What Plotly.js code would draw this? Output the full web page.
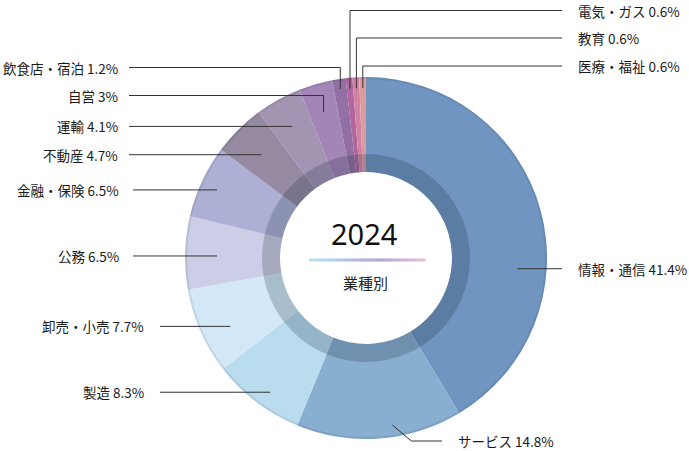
<!DOCTYPE html>
<html>
<head>
<meta charset="utf-8">
<script src="https://cdn.plot.ly/plotly-3.0.1.min.js"></script>
<style>html,body{margin:0;padding:0;background:#fff}</style>
</head>
<body>
<div id="chart" style="width:689px;height:451px"></div>
<script>
const sectors = ["情報・通信", "サービス", "製造", "卸売・小売", "公務", "金融・保険",
  "不動産", "運輸", "自営", "飲食店・宿泊", "電気・ガス", "教育", "医療・福祉"];
const shares = [41.4, 14.8, 8.3, 7.7, 6.5, 6.5, 4.7, 4.1, 3, 1.2, 0.6, 0.6, 0.6];
const year = "2024";
const caption = "業種別";

const colors = ["#6F95C0", "#88AED0", "#BADCEF", "#D3E8F7", "#CCCDE6", "#ADB0D4",
  "#958AA2", "#A394B2", "#A485B8", "#9270A3", "#B0669E", "#D283A3", "#DA9C9E"];

const W = 689, H = 451;
const CX = 366, CY = 258, R = 181;
const HOLE_R = 86, BAND_R = 104;

// where each leader line starts inside its slice and where its label sits
const guides = [
  { kind: "h", f: 0.631, r: 152, lineX: 562, textX: 577 },
  { kind: "d", f: 0.413, r: 169, dx: 19, ty: 441, lineX: 442, textX: 457 },
  { kind: "h", f: 0.443, r: 165, lineX: 160, textX: 145 },
  { kind: "h", f: 0.399, r: 152, lineX: 160, textX: 145 },
  { kind: "h", f: 0.464, r: 149, lineX: 133, textX: 120 },
  { kind: "h", f: 0.479, r: 164, lineX: 133, textX: 120 },
  { kind: "h", f: 0.468, r: 147, lineX: 129, textX: 119 },
  { kind: "h", f: 0.473, r: 151, lineX: 129, textX: 119 },
  { kind: "v", f: 0.5, r: 152, ty: 95.5, lineX: 129, textX: 119 },
  { kind: "v", f: 0.5, r: 171, ty: 67.5, lineX: 129, textX: 119 },
  { kind: "v", f: 0.5, r: 170, ty: 10.5, lineX: 562, textX: 577 },
  { kind: "v", f: 0.5, r: 170, ty: 38, lineX: 562, textX: 577 },
  { kind: "v", f: 0.5, r: 170, ty: 66, lineX: 562, textX: 577 }
];

const px = (x) => x / W;
const py = (y) => 1 - y / H;

function domainFor(rad) {
  return {
    x: [px(CX - rad), px(CX + rad)],
    y: [py(CY + rad), py(CY - rad)]
  };
}

const total = shares.reduce((a, b) => a + b, 0);
const shapes = [];
const annotations = [];
const lineStyle = { color: "#333", width: 1 };

let cum = 0;
shares.forEach((v, i) => {
  const a0 = (cum / total) * 360;
  cum += v;
  const a1 = (cum / total) * 360;
  const g = guides[i];
  const ang = ((a0 + g.f * (a1 - a0)) * Math.PI) / 180;
  const x = CX + g.r * Math.sin(ang);
  const y = CY - g.r * Math.cos(ang);
  let path, ty;
  if (g.kind === "h") {
    ty = y;
    path = `M ${px(x)} ${py(y)} L ${px(g.lineX)} ${py(y)}`;
  } else if (g.kind === "v") {
    ty = g.ty;
    path = `M ${px(x)} ${py(y)} L ${px(x)} ${py(ty)} L ${px(g.lineX)} ${py(ty)}`;
  } else {
    ty = g.ty;
    path = `M ${px(x)} ${py(y)} L ${px(x + g.dx)} ${py(ty)} L ${px(g.lineX)} ${py(ty)}`;
  }
  shapes.push({ type: "path", xref: "paper", yref: "paper", path: path, line: lineStyle });
  const left = g.lineX < CX;
  annotations.push({
    xref: "paper", yref: "paper",
    x: px(g.textX), y: py(ty),
    xanchor: left ? "right" : "left", yanchor: "middle",
    text: `${sectors[i]} ${v}%`,
    showarrow: false,
    borderpad: 0,
    font: { family: "Noto Sans CJK JP", size: 13.5, color: "#1a1a1a" }
  });
});

// soft rim on the outer edge
shapes.push({
  type: "circle", xref: "paper", yref: "paper", layer: "above",
  x0: px(CX - R + 1), x1: px(CX + R - 1), y0: py(CY + R - 1), y1: py(CY - R + 1),
  line: { color: "rgba(40,50,70,0.10)", width: 2 }
});

// gradient rule under the year
const stops = [[190, 224, 243], [176, 168, 216], [228, 192, 210]];
const gx0 = 309, gx1 = 425, n = 58;
for (let k = 0; k < n; k++) {
  const t = k / (n - 1);
  const s = t < 0.6 ? 0 : 1;
  const tt = s === 0 ? t / 0.6 : (t - 0.6) / 0.4;
  const c = stops[s].map((c0, j) => Math.round(c0 + (stops[s + 1][j] - c0) * tt));
  const xa = gx0 + ((gx1 - gx0) * k) / n;
  const xb = gx0 + ((gx1 - gx0) * (k + 1)) / n + 0.5;
  shapes.push({
    type: "rect", xref: "paper", yref: "paper",
    x0: px(xa), x1: px(xb), y0: py(261.5), y1: py(258.5),
    fillcolor: `rgb(${c.join(",")})`, line: { width: 0 }
  });
}

annotations.push({
  xref: "paper", yref: "paper", x: px(364), y: py(234),
  xanchor: "center", yanchor: "middle", showarrow: false,
  text: year, font: { family: "Noto Sans", size: 29, color: "#111" }
});
annotations.push({
  xref: "paper", yref: "paper", x: px(365), y: py(282),
  xanchor: "center", yanchor: "middle", showarrow: false,
  text: caption, font: { family: "Noto Sans CJK JP", size: 15, color: "#222" }
});

const ring = {
  type: "pie",
  labels: sectors,
  values: shares,
  sort: false,
  direction: "clockwise",
  rotation: 0,
  hole: HOLE_R / R,
  domain: domainFor(R),
  marker: { colors: colors, line: { width: 0 } },
  textinfo: "none",
  hoverinfo: "label+percent",
  showlegend: false
};

const band = {
  type: "pie",
  labels: ["band"],
  values: [1],
  sort: false,
  hole: HOLE_R / BAND_R,
  domain: domainFor(BAND_R),
  marker: { colors: ["rgba(25,40,60,0.22)"], line: { width: 0 } },
  textinfo: "none",
  hoverinfo: "skip",
  showlegend: false
};

const layout = {
  width: W,
  height: H,
  margin: { l: 0, r: 0, t: 0, b: 0 },
  paper_bgcolor: "#fff",
  showlegend: false,
  shapes: shapes,
  annotations: annotations
};

Plotly.newPlot("chart", [ring, band], layout, { displayModeBar: false, staticPlot: true });
</script>
</body>
</html>
